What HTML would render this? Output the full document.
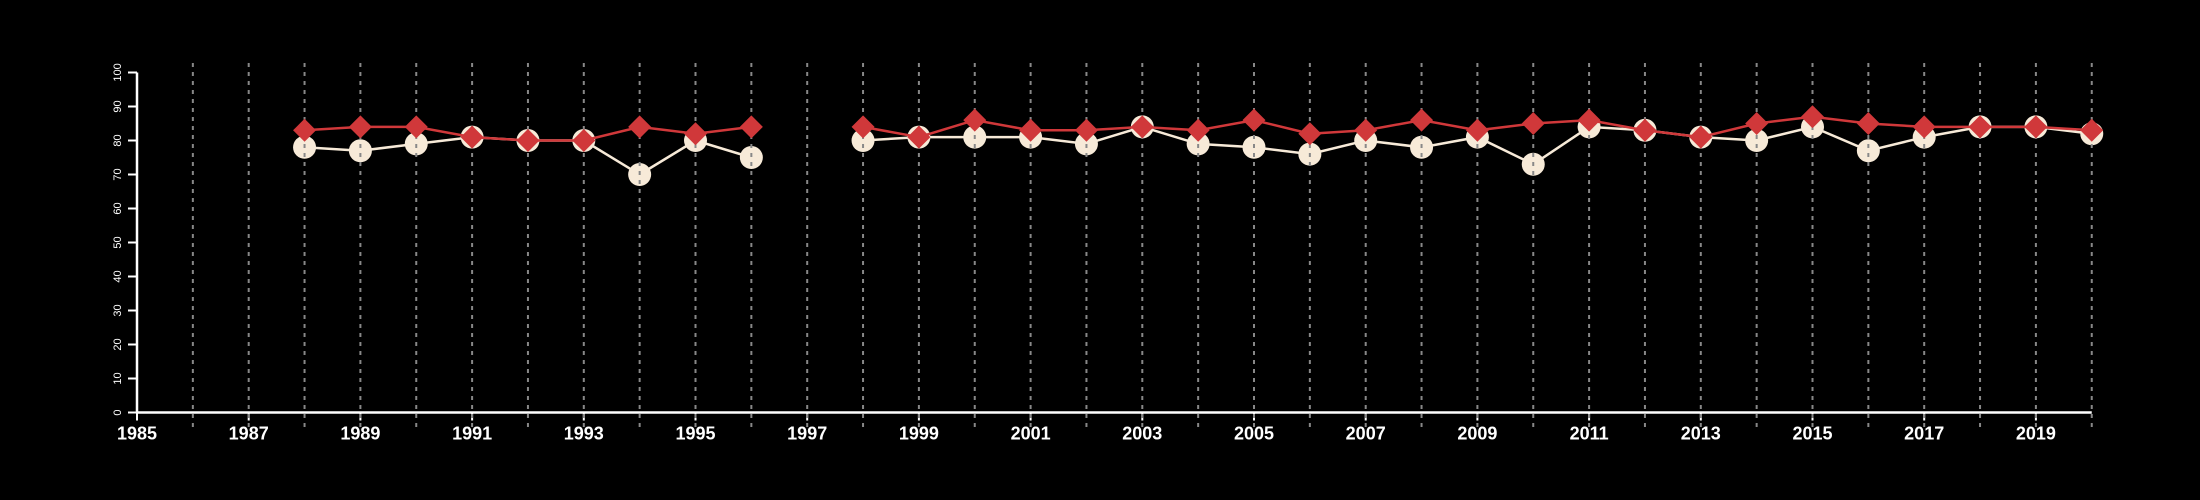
<!DOCTYPE html>
<html><head><meta charset="utf-8"><style>
html,body{margin:0;padding:0;background:#000;}
svg{display:block;font-family:"Liberation Sans",sans-serif;}
</style></head><body>
<svg id="chart" width="2200" height="500" viewBox="0 0 2200 500"></svg>
<script>
const years = [1988,1989,1990,1991,1992,1993,1994,1995,1996,1997,1998,1999,2000,2001,2002,2003,2004,2005,2006,2007,2008,2009,2010,2011,2012,2013,2014,2015,2016,2017,2018,2019,2020];
const seriesA = [78,77,79,81,80,80,70,80,75,null,80,81,81,81,79,84,79,78,76,80,78,81,73,84,83,81,80,84,77,81,84,84,82];
const seriesB = [83,84,84,81,80,80,84,82,84,null,84,81,86,83,83,84,83,86,82,83,86,83,85,86,83,81,85,87,85,84,84,84,83];
const yTicks = [0,10,20,30,40,50,60,70,80,90,100];
const xTickLabels = [1985,1987,1989,1991,1993,1995,1997,1999,2001,2003,2005,2007,2009,2011,2013,2015,2017,2019];

const NS="http://www.w3.org/2000/svg";
const svg=document.getElementById('chart');
const X0=137, YEAR0=1985, DX=55.85, Y0=412.5, DY=3.4;
const xs=v=>X0+(v-YEAR0)*DX;
const ys=v=>Y0-v*DY;
function mk(tag,attrs,parent){const e=document.createElementNS(NS,tag);for(const k in attrs)e.setAttribute(k,attrs[k]);(parent||svg).appendChild(e);return e;}

// axes
const axes=mk('g',{});


const yl=mk('line',{x1:X0,y1:ys(0),x2:X0,y2:ys(100),stroke:'#fff','stroke-width':2.5},axes);


yTicks.forEach(t=>{
  const tk=mk('line',{x1:X0-9,y1:ys(t),x2:X0,y2:ys(t),stroke:'#fff','stroke-width':2},axes);
  
  
  const tx=mk('text',{x:0,y:0,fill:'#fff','font-size':11,'text-anchor':'middle',transform:`translate(${X0-19},${ys(t)}) rotate(-90)`,'dominant-baseline':'central'},axes);
  tx.textContent=t;
  
  
});
const xl=mk('line',{x1:X0,y1:Y0,x2:xs(2020),y2:Y0,stroke:'#fff','stroke-width':2.5},axes);


xTickLabels.forEach(t=>{
  const tk=mk('line',{x1:xs(t),y1:Y0,x2:xs(t),y2:Y0+8,stroke:'#fff','stroke-width':2},axes);
  
  
  const tx=mk('text',{x:xs(t),y:Y0+27,fill:'#fff','font-size':18,'font-weight':'bold','text-anchor':'middle'},axes);
  tx.textContent=t;
  
  
});

function segs(vals){const out=[];let cur=[];vals.forEach((v,i)=>{if(v==null){if(cur.length)out.push(cur);cur=[];}else cur.push([xs(years[i]),ys(v)]);});if(cur.length)out.push(cur);return out;}

// series A line + circles
segs(seriesA).forEach(s=>{
  const p=mk('polyline',{points:s.map(q=>q.join(',')).join(' '),fill:'none',stroke:'#f7ead8','stroke-width':2.5});
  
  
});
seriesA.forEach((v,i)=>{if(v==null)return;
  const c=mk('ellipse',{cx:xs(years[i]),cy:ys(v),rx:11.5,ry:11.5,fill:'#f7ead8'});
  
  
});

// gridlines
for(let y=1986;y<=2020;y++){
  const g=mk('line',{x1:xs(y),y1:63,x2:xs(y),y2:428,stroke:'#888','stroke-width':2,'stroke-dasharray':'4,5'});
  
  
}

// series B line + diamonds
segs(seriesB).forEach(s=>{
  const p=mk('polyline',{points:s.map(q=>q.join(',')).join(' '),fill:'none',stroke:'#d0383a','stroke-width':2.5});
  
  
});
seriesB.forEach((v,i)=>{if(v==null)return;
  const x=xs(years[i]),y=ys(v),r=11.5;
  const d=mk('polygon',{points:`${x},${y-r} ${x+r},${y} ${x},${y+r} ${x-r},${y}`,fill:'#d0383a'});
  
  
});
</script>
</body></html>
